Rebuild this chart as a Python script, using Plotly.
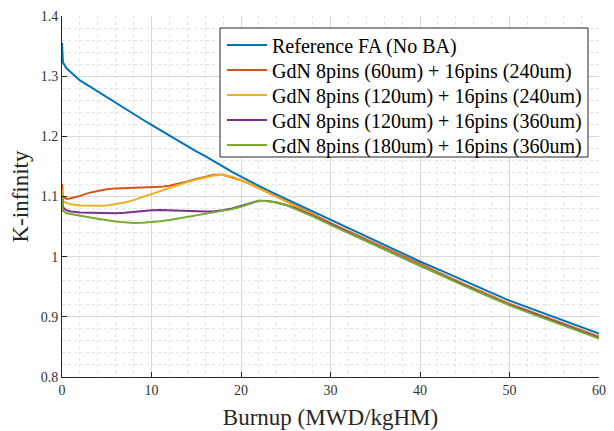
import plotly.graph_objects as go

burnup = [0, 0.1, 0.5, 1, 2, 3, 4, 5, 6, 7, 8, 9, 10, 11, 12, 13, 14, 15, 16, 17, 18, 19,
          20, 21, 22, 23, 24, 25, 26, 28, 30, 32.5, 35, 37.5, 40, 42.5, 45, 47.5, 50,
          52.5, 55, 57.5, 60]

ref_no_ba = [1.355, 1.323, 1.313, 1.306, 1.293, 1.284, 1.2745, 1.265, 1.256, 1.247, 1.2375,
             1.228, 1.219, 1.210, 1.201, 1.192, 1.184, 1.175, 1.167, 1.158, 1.150, 1.141,
             1.133, 1.125, 1.118, 1.110, 1.103, 1.096, 1.089, 1.075, 1.061, 1.044, 1.026,
             1.009, 0.992, 0.976, 0.959, 0.943, 0.927, 0.913, 0.899, 0.885, 0.872]

gdn_60_240 = [1.121, 1.100, 1.096, 1.097, 1.101, 1.106, 1.109, 1.112, 1.1135, 1.114, 1.1145,
              1.1145, 1.115, 1.116, 1.118, 1.121, 1.125, 1.129, 1.133, 1.136, 1.136, 1.132,
              1.127, 1.121, 1.114, 1.107, 1.099, 1.092, 1.085, 1.071, 1.056, 1.039, 1.021,
              1.004, 0.987, 0.971, 0.954, 0.938, 0.922, 0.908, 0.894, 0.880, 0.867]

gdn_120_240 = [1.112, 1.093, 1.089, 1.087, 1.085, 1.0845, 1.0845, 1.085, 1.087, 1.090, 1.094,
               1.099, 1.105, 1.110, 1.115, 1.120, 1.124, 1.128, 1.132, 1.135, 1.136, 1.133,
               1.127, 1.121, 1.114, 1.107, 1.099, 1.092, 1.084, 1.070, 1.055, 1.038, 1.020,
               1.003, 0.986, 0.970, 0.953, 0.937, 0.921, 0.907, 0.893, 0.879, 0.866]

gdn_120_360 = [1.101, 1.082, 1.077, 1.075, 1.0735, 1.073, 1.072, 1.0715, 1.072, 1.073, 1.0745,
               1.076, 1.077, 1.0775, 1.077, 1.076, 1.0755, 1.075, 1.075, 1.0755, 1.077, 1.080,
               1.084, 1.089, 1.093, 1.0925, 1.090, 1.086, 1.081, 1.068, 1.054, 1.037, 1.019,
               1.002, 0.985, 0.969, 0.952, 0.936, 0.920, 0.906, 0.892, 0.878, 0.865]

gdn_180_360 = [1.100, 1.076, 1.072, 1.0705, 1.068, 1.0655, 1.063, 1.0605, 1.0585, 1.057, 1.056,
               1.0565, 1.0575, 1.059, 1.061, 1.0635, 1.066, 1.069, 1.071, 1.073, 1.0755, 1.079,
               1.083, 1.088, 1.093, 1.092, 1.090, 1.086, 1.080, 1.067, 1.053, 1.036, 1.018,
               1.001, 0.984, 0.968, 0.951, 0.935, 0.919, 0.905, 0.891, 0.877, 0.864]

series_names = ["Reference FA (No BA)",
                "GdN 8pins (60um) + 16pins (240um)",
                "GdN 8pins (120um) + 16pins (240um)",
                "GdN 8pins (120um) + 16pins (360um)",
                "GdN 8pins (180um) + 16pins (360um)"]
series_values = [ref_no_ba, gdn_60_240, gdn_120_240, gdn_120_360, gdn_180_360]
colors = ["#0072BD", "#D95319", "#EDB120", "#7E2F8E", "#77AC30"]

x_ticks = [0, 10, 20, 30, 40, 50, 60]
y_ticks = [0.8, 0.9, 1.0, 1.1, 1.2, 1.3, 1.4]
y_tick_labels = ["0.8", "0.9", "1", "1.1", "1.2", "1.3", "1.4"]

font_family = "Liberation Serif, Times New Roman, serif"

# layout geometry (figure pixels; the page adds an 8px body margin)
W, H = 606, 423
ML, MR, MT, MB = 54, 15, 8, 54
PW, PH = W - ML - MR, H - MT - MB
box_left_px, box_right_px, box_top_px, box_bot_px = 212, 580, 20, 149
row_pitch_px = 25
first_row_px = 37

def px_x(px):
    return (px - ML) / PW

def px_y(py):
    return 1 - (py - MT) / PH

fig = go.Figure()
legend_layouts = {}
for i, (name, vals, col) in enumerate(zip(series_names, series_values, colors)):
    lg = "legend" if i == 0 else f"legend{i + 1}"
    fig.add_trace(go.Scatter(x=burnup, y=vals, mode="lines", name=name,
                             line=dict(color=col, width=2), legend=lg))
    legend_layouts[lg] = dict(
        x=px_x(box_left_px + 2), y=px_y(first_row_px + i * row_pitch_px),
        xanchor="left", yanchor="middle",
        bgcolor="rgba(0,0,0,0)", borderwidth=0, itemwidth=40,
        font=dict(family=font_family, size=20, color="#000000"),
    )

axis_common = dict(
    showline=True, linecolor="#262626", linewidth=1,
    ticks="inside", ticklen=5, tickcolor="#262626",
    showgrid=True, gridcolor="#d9d9d9", gridwidth=1,
    zeroline=False, automargin=False,
    tickfont=dict(family=font_family, size=14, color="#333333"),
)

fig.update_xaxes(range=[0, 60], tickvals=x_ticks,
                 title=dict(text="Burnup (MWD/kgHM)", font=dict(family=font_family, size=23, color="#262626"), standoff=12),
                 minor=dict(dtick=2, showgrid=True, gridcolor="#e3e3e3", griddash="dot", gridwidth=1),
                 **axis_common)
fig.update_yaxes(range=[0.8, 1.4], tickvals=y_ticks, ticktext=y_tick_labels,
                 title=dict(text="K-infinity", font=dict(family=font_family, size=23, color="#262626"), standoff=8),
                 minor=dict(dtick=0.02, showgrid=True, gridcolor="#e3e3e3", griddash="dot", gridwidth=1),
                 **axis_common)

fig.add_shape(type="rect", xref="paper", yref="paper",
              x0=px_x(box_left_px), x1=px_x(box_right_px),
              y0=px_y(box_bot_px), y1=px_y(box_top_px),
              fillcolor="white", line=dict(color="#262626", width=1), layer="above")

fig.update_layout(
    width=W, height=H,
    margin=dict(l=ML, r=MR, t=MT, b=MB),
    paper_bgcolor="white", plot_bgcolor="white",
    font=dict(family=font_family, color="#000000"),
    showlegend=True,
    **legend_layouts,
)

fig.write_html("out.html")
